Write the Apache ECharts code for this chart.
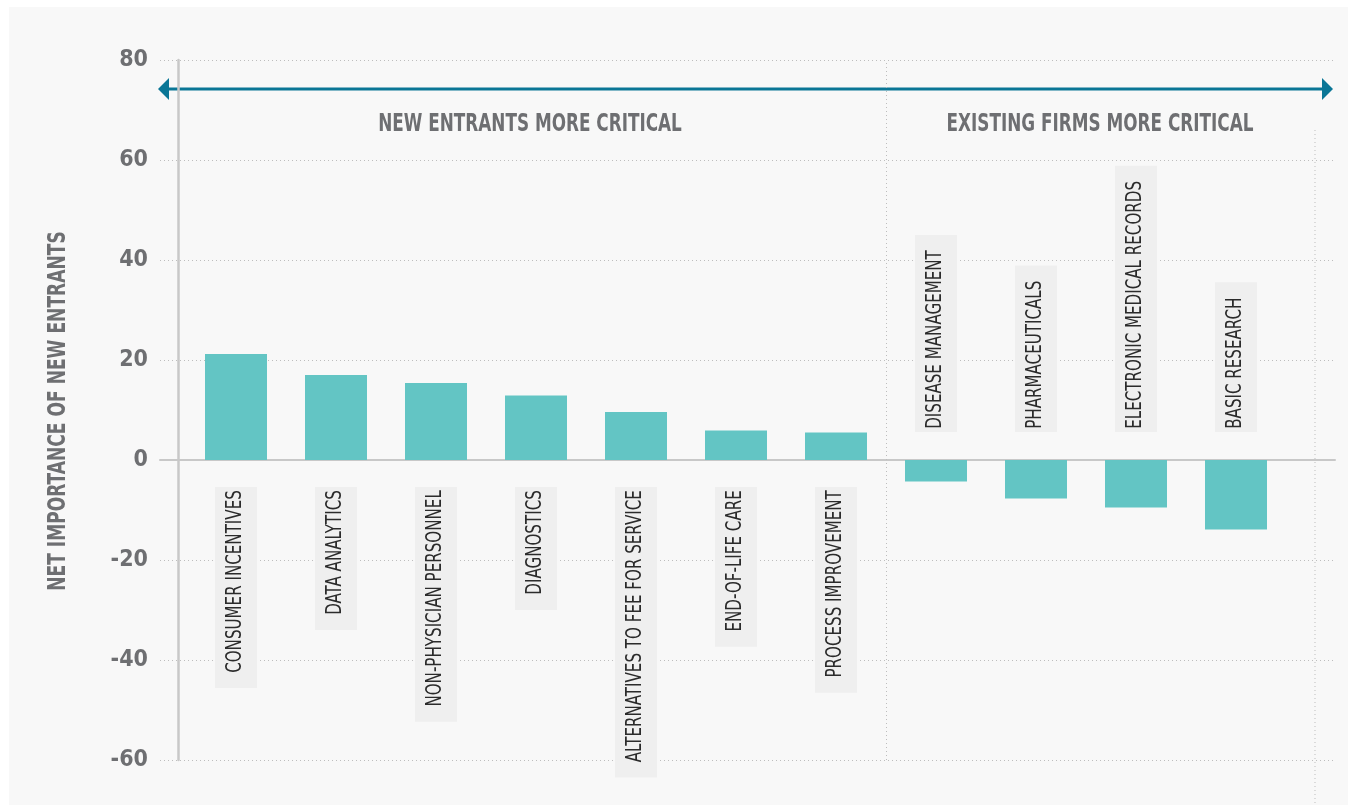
<!DOCTYPE html>
<html>
<head>
<meta charset="utf-8">
<script src="https://cdn.jsdelivr.net/npm/echarts@6/dist/echarts.min.js"></script>
<style>
html, body { margin: 0; padding: 0; background: #fff; }
#panel { position: absolute; left: 9px; top: 7px; width: 1339px; height: 798px; background: #f8f8f8; }
#chart { position: absolute; left: 0; top: 0; width: 1348px; height: 805px; }
</style>
</head>
<body>
<div id="panel"></div>
<div id="chart"></div>
<script>
var categories = [
    'CONSUMER INCENTIVES',
    'DATA ANALYTICS',
    'NON-PHYSICIAN PERSONNEL',
    'DIAGNOSTICS',
    'ALTERNATIVES TO FEE FOR SERVICE',
    'END-OF-LIFE CARE',
    'PROCESS IMPROVEMENT',
    'DISEASE MANAGEMENT',
    'PHARMACEUTICALS',
    'ELECTRONIC MEDICAL RECORDS',
    'BASIC RESEARCH'
]
var values = [21.2, 17.0, 15.4, 12.9, 9.6, 5.9, 5.5, -4.3, -7.7, -9.5, -13.9]
var yTicks = [-60, -40, -20, 0, 20, 40, 60, 80]
var groupLabels = ['NEW ENTRANTS MORE CRITICAL', 'EXISTING FIRMS MORE CRITICAL']
var yName = 'NET IMPORTANCE OF NEW ENTRANTS'

// no narrow font here, so condensed text is squeezed with scaleX
var narrow = '"DejaVu Sans Condensed", "DejaVu Sans", sans-serif'
var grey = '#6e6f72'
var teal = '#0a7696'

var points = values.map(function (v, i) { return [i, v] })

var option = {
    animation: false,
    grid: { left: 160, right: 13, top: 60, bottom: 45 },
    xAxis: {
        type: 'value',
        min: -0.76,
        max: 10.99,
        axisLabel: { show: false },
        axisTick: { show: false },
        splitLine: { show: false },
        axisLine: { show: true, onZero: true, lineStyle: { color: '#c8c8c8', width: 2 } }
    },
    yAxis: {
        type: 'value',
        min: yTicks[0],
        max: yTicks[yTicks.length - 1],
        interval: 20,
        offset: -18,
        axisLine: { show: true, onZero: false, lineStyle: { color: '#c8c8c8', width: 2.5 } },
        axisTick: { show: false },
        axisLabel: { margin: 30, fontFamily: narrow, fontWeight: 'bold', fontSize: 23, color: grey },
        splitLine: { show: true, lineStyle: { color: '#bdbdbd', width: 1, type: [1, 3] } }
    },
    series: [
        {
            type: 'bar',
            data: points,
            barWidth: 62,
            itemStyle: { color: '#63c5c4' },
            markLine: {
                silent: true,
                symbol: ['none', 'none'],
                label: { show: false },
                lineStyle: { color: '#bdbdbd', width: 1, type: [1, 3] },
                data: [{ xAxis: 6.5 }]
            }
        },
        {
            type: 'custom',
            data: points,
            z: 5,
            renderItem: function (params, api) {
                var i = api.value(0)
                var v = api.value(1)
                var p = api.coord([i, 0])
                var pos = v >= 0
                return {
                    type: 'text',
                    x: p[0],
                    y: pos ? p[1] + 27 : p[1] - 28,
                    rotation: Math.PI / 2,
                    scaleX: 0.8,
                    style: {
                        text: categories[i],
                        font: '21px ' + narrow,
                        fill: '#2b2b2b',
                        backgroundColor: '#efefef',
                        lineHeight: 20,
                        padding: pos ? [11, 4, 11, 19] : [11, 19, 11, 4],
                        align: pos ? 'right' : 'left',
                        verticalAlign: 'middle'
                    }
                }
            }
        }
    ],
    graphic: [
        { type: 'line', shape: { x1: 167, y1: 89, x2: 1323, y2: 89 }, style: { stroke: teal, lineWidth: 3 } },
        { type: 'polygon', shape: { points: [[158, 89], [169, 78], [169, 100]] }, style: { fill: teal } },
        { type: 'polygon', shape: { points: [[1333, 89], [1322, 78], [1322, 100]] }, style: { fill: teal } },
        { type: 'line', shape: { x1: 1315, y1: 130, x2: 1315, y2: 805 }, style: { stroke: '#bdbdbd', lineWidth: 1, lineDash: [1, 3] } },
        {
            type: 'text', x: 530, y: 125, scaleX: 0.78,
            style: { text: groupLabels[0], font: 'bold 24px ' + narrow, fill: grey, align: 'center', verticalAlign: 'middle' }
        },
        {
            type: 'text', x: 1100, y: 125, scaleX: 0.78,
            style: { text: groupLabels[1], font: 'bold 24px ' + narrow, fill: grey, align: 'center', verticalAlign: 'middle' }
        },
        {
            type: 'text', x: 58, y: 411, rotation: Math.PI / 2, scaleX: 0.76,
            style: { text: yName, font: 'bold 25px ' + narrow, fill: grey, align: 'center', verticalAlign: 'middle' }
        }
    ]
}

var myChart = echarts.init(document.getElementById('chart'))
myChart.setOption(option)
</script>
</body>
</html>
